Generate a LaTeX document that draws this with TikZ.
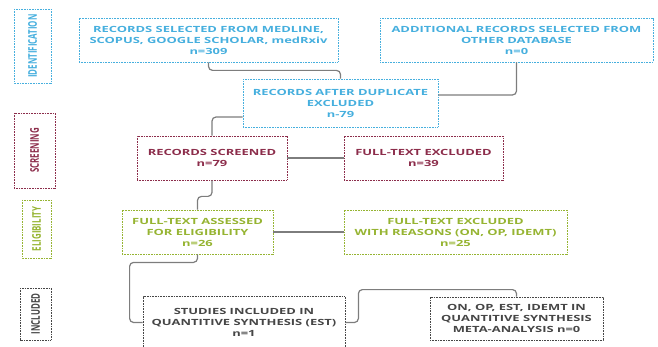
\documentclass[tikz,border=0pt]{standalone}
\usepackage{fontspec}
\setmainfont{Open Sans}[FakeStretch=1.52]
\newfontfamily\sidefont{Open Sans}[FakeStretch=0.66]
\usetikzlibrary{calc}

\definecolor{idcol}{RGB}{70,175,222}
\definecolor{scrcol}{RGB}{140,45,75}
\definecolor{elcol}{RGB}{150,180,50}
\definecolor{incol}{RGB}{70,70,70}
\definecolor{lncol}{RGB}{125,125,125}

\begin{document}
\begin{tikzpicture}[x=1pt,y=-1pt,
    box/.style={draw, line width=0.8pt, dash pattern=on 1pt off 0.6pt, align=center,
        inner sep=2pt, font=\bfseries\fontsize{8.5}{11}\selectfont},
    sidebox/.style={box, rotate=90, font=\sidefont\bfseries\fontsize{12}{12}\selectfont},
    idbox/.style={box, draw=idcol, text=idcol},
    scrbox/.style={box, draw=scrcol, text=scrcol},
    elbox/.style={box, draw=elcol, text=elcol},
    inbox/.style={box, draw=incol, text=incol},
    link/.style={draw=lncol, line width=1.2pt, rounded corners=4pt}]

    \useasboundingbox (0,0) rectangle (658,347);
    \clip (0,0) rectangle (658,347);

    % Stage labels on the left
    \node[sidebox, draw=idcol, text=idcol, minimum width=74, minimum height=37] (sideid) at (32.5,46) {IDENTIFICATION};
    \node[sidebox, draw=scrcol, text=scrcol, minimum width=75, minimum height=41] (sidescr) at (34.5,150.5) {SCREENING};
    \node[sidebox, draw=elcol, text=elcol, minimum width=58, minimum height=29] (sideel) at (36.5,229) {ELIGIBILITY};
    \node[sidebox, draw=incol, text=incol, minimum width=52, minimum height=31] (sidein) at (35.5,314) {INCLUDED};

    % Identification
    \node[idbox, minimum width=259, minimum height=44] (medline) at (208.5,40)
        {RECORDS SELECTED FROM MEDLINE,\\SCOPUS, GOOGLE SCHOLAR, medRxiv\\n=309};
    \node[idbox, minimum width=273, minimum height=44] (other) at (516.5,40)
        {ADDITIONAL RECORDS SELECTED FROM\\OTHER DATABASE\\n=0};
    \node[idbox, minimum width=195, minimum height=48] (dupl) at (340.5,103)
        {RECORDS AFTER DUPLICATE\\EXCLUDED\\n-79};

    % Screening
    \node[scrbox, minimum width=150, minimum height=44] (screened) at (212,158)
        {RECORDS SCREENED\\n=79};
    \node[scrbox, minimum width=159, minimum height=44] (ftexcl) at (423.5,158)
        {FULL-TEXT EXCLUDED\\n=39};

    % Eligibility
    \node[elbox, minimum width=151, minimum height=44] (assessed) at (197.5,232)
        {FULL-TEXT ASSESSED\\FOR ELIGIBILITY\\n=26};
    \node[elbox, minimum width=223, minimum height=44] (reasons) at (455.5,232)
        {FULL-TEXT EXCLUDED\\WITH REASONS (ON, OP, IDEMT)\\n=25};

    % Included
    \node[inbox, minimum width=202, minimum height=52] (studies) at (244,322.5)
        {STUDIES INCLUDED IN\\QUANTITIVE SYNTHESIS (EST)\\n=1};
    \node[inbox, minimum width=173, minimum height=43] (meta) at (516.5,318.5)
        {ON, OP, EST, IDEMT IN\\QUANTITIVE SYNTHESIS\\META-ANALYSIS n=0};

    % Connectors
    \draw[link] (medline.south) -- ++(0,8) -| (dupl.north);
    \draw[link] (other.south) |- ($(dupl.east)+(0,-8)$);
    \draw[link] ($(dupl.west)+(0,14)$) -| (screened.north);
    \draw[link] (screened.east) -- (ftexcl.west);
    \draw[link] (screened.south) -- ++(0,16) -| (assessed.north);
    \draw[link] (assessed.east) -- (reasons.west);
    \draw[link] (assessed.south) -- ++(0,8) -| ($(studies.west)+(-13,0)$) -- (studies.west);
    \draw[link] (studies.east) -- ++(13,0) |- ($(meta.north)+(0,-7)$) -- (meta.north);
\end{tikzpicture}
\end{document}
